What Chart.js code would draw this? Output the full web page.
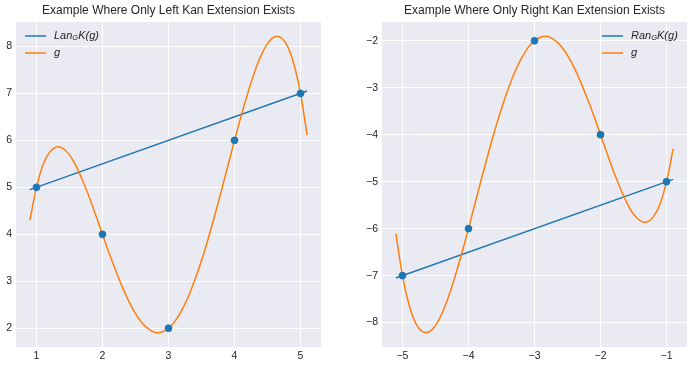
<!DOCTYPE html>
<html>
<head>
<meta charset="utf-8">
<script src="https://cdn.jsdelivr.net/npm/chart.js@4.4.0/dist/chart.umd.min.js"></script>
<style>
  html, body { margin: 0; padding: 0; background: #ffffff; }
  #wrap { position: relative; width: 693px; height: 367px; }
  #left-box { position: absolute; left: 0; top: 0; width: 345px; height: 367px; }
  #right-box { position: absolute; left: 345px; top: 0; width: 348px; height: 367px; }
</style>
</head>
<body>
<div id="wrap">
  <div id="left-box"><canvas id="left-chart"></canvas></div>
  <div id="right-box"><canvas id="right-chart"></canvas></div>
</div>
<script>
// sample points (both panels)
const leftPtsX = [1, 2, 3, 4, 5];
const leftPtsY = [5, 4, 2, 6, 7];
const rightPtsX = [-5, -4, -3, -2, -1];
const rightPtsY = [-7, -6, -2, -4, -5];

// Kan extension lines (end points)
const lanX = [0.9, 5.1];
const lanY = [4.95, 7.05];
const ranX = [-5.1, -0.9];
const ranY = [-7.05, -4.95];

// g curve, left panel
const gLeftX = [0.9, 1.0, 1.1, 1.2, 1.3, 1.4, 1.5, 1.6, 1.7, 1.8, 1.9, 2.0, 2.1, 2.2, 2.3, 2.4, 2.5, 2.6, 2.7, 2.8, 2.9,
                3.0, 3.1, 3.2, 3.3, 3.4, 3.5, 3.6, 3.7, 3.8, 3.9, 4.0, 4.1, 4.2, 4.3, 4.4, 4.5, 4.6, 4.7, 4.8, 4.9, 5.0, 5.1];
const gLeftY = [4.30, 5.00, 5.48, 5.75, 5.86, 5.83, 5.69, 5.45, 5.14, 4.79, 4.40, 4.00, 3.60, 3.23, 2.88, 2.57, 2.31, 2.11, 1.98, 1.91, 1.92,
                2.00, 2.15, 2.38, 2.67, 3.03, 3.44, 3.90, 4.40, 4.92, 5.46, 6.00, 6.52, 7.00, 7.44, 7.80, 8.06, 8.20, 8.19, 8.01, 7.62, 7.00, 6.11];

// g curve, right panel
const gRightX = [-5.1, -5.0, -4.9, -4.8, -4.7, -4.6, -4.5, -4.4, -4.3, -4.2, -4.1, -4.0, -3.9, -3.8, -3.7, -3.6, -3.5, -3.4, -3.3, -3.2, -3.1,
                 -3.0, -2.9, -2.8, -2.7, -2.6, -2.5, -2.4, -2.3, -2.2, -2.1, -2.0, -1.9, -1.8, -1.7, -1.6, -1.5, -1.4, -1.3, -1.2, -1.1, -1.0, -0.9];
const gRightY = [-6.11, -7.00, -7.62, -8.01, -8.19, -8.20, -8.06, -7.80, -7.44, -7.00, -6.52, -6.00, -5.46, -4.92, -4.40, -3.90, -3.44, -3.03, -2.67, -2.38, -2.15,
                 -2.00, -1.92, -1.91, -1.98, -2.11, -2.31, -2.57, -2.88, -3.23, -3.60, -4.00, -4.40, -4.79, -5.14, -5.45, -5.69, -5.83, -5.86, -5.75, -5.48, -5.00, -4.30];

const BLUE = '#1f77b4';
const ORANGE = '#ff7f0e';
const TEXT = '#262626';
const FONT = '"Liberation Sans", Arial, sans-serif';

Chart.defaults.font.family = FONT;
Chart.defaults.font.size = 10.5;
Chart.defaults.color = TEXT;

const zip = (xs, ys) => xs.map((x, i) => ({ x: x, y: ys[i] }));
const minusSign = v => String(v).replace('-', '\u2212');

// axes background, title and legend drawn by hand (matplotlib look)
const decorPlugin = {
    id: 'decor',
    beforeDraw(chart, args, opts) {
        const a = chart.chartArea;
        const ctx = chart.ctx;
        ctx.save();
        ctx.fillStyle = '#eaeaf2';
        ctx.fillRect(a.left, a.top, a.right - a.left, a.bottom - a.top);
        ctx.restore();
    },
    afterDraw(chart, args, opts) {
        const a = chart.chartArea;
        const ctx = chart.ctx;
        ctx.save();
        ctx.fillStyle = TEXT;
        ctx.font = '12px ' + FONT;
        ctx.textAlign = 'center';
        ctx.textBaseline = 'middle';
        ctx.fillText(opts.title, (a.left + a.right) / 2, 11);

        // legend
        const rows = [
            { color: BLUE, parts: [[opts.kanName, 11, 0], ['G', 7.5, 2], ['K(g)', 11, 0]] },
            { color: ORANGE, parts: [['g', 11, 0]] }
        ];
        rows.forEach((row, i) => {
            const y = opts.legendY + i * 17;
            ctx.strokeStyle = row.color;
            ctx.lineWidth = 1.5;
            ctx.beginPath();
            ctx.moveTo(opts.legendX, y);
            ctx.lineTo(opts.legendX + 21, y);
            ctx.stroke();
            let tx = opts.legendX + 29;
            ctx.textAlign = 'left';
            ctx.fillStyle = TEXT;
            row.parts.forEach(p => {
                ctx.font = 'italic ' + p[1] + 'px ' + FONT;
                ctx.fillText(p[0], tx, y + p[2]);
                tx += ctx.measureText(p[0]).width;
            });
        });
        ctx.restore();
    }
};

function makeChart(id, cfg) {
    const datasets = [
        {
            label: 'points',
            type: 'scatter',
            data: zip(cfg.ptsX, cfg.ptsY),
            backgroundColor: BLUE,
            borderColor: BLUE,
            pointRadius: 3.4,
            pointHoverRadius: 3.4,
            order: 0
        },
        {
            label: 'g',
            type: 'line',
            data: zip(cfg.gX, cfg.gY),
            borderColor: ORANGE,
            borderWidth: 1.5,
            pointRadius: 0,
            tension: 0.3,
            fill: false,
            order: 1
        },
        {
            label: 'kan',
            type: 'line',
            data: zip(cfg.lineX, cfg.lineY),
            borderColor: BLUE,
            borderWidth: 1.5,
            pointRadius: 0,
            fill: false,
            order: 2
        }
    ];

    return new Chart(document.getElementById(id), {
        type: 'line',
        data: { datasets: datasets },
        options: {
            responsive: true,
            maintainAspectRatio: false,
            animation: false,
            layout: { padding: { top: 22, right: cfg.padRight, left: 0, bottom: 0 } },
            plugins: {
                legend: { display: false },
                tooltip: { enabled: false },
                decor: {
                    title: cfg.title,
                    legendX: cfg.legendX,
                    legendY: 36,
                    kanName: cfg.kanName
                }
            },
            scales: {
                x: {
                    type: 'linear',
                    min: cfg.xMin,
                    max: cfg.xMax,
                    border: { display: false },
                    grid: { color: '#ffffff', lineWidth: 1, drawTicks: false },
                    ticks: { stepSize: 1, includeBounds: false, padding: 3, callback: minusSign },
                    afterFit: s => { s.height = 20; }
                },
                y: {
                    type: 'linear',
                    min: cfg.yMin,
                    max: cfg.yMax,
                    border: { display: false },
                    grid: { color: '#ffffff', lineWidth: 1, drawTicks: false },
                    ticks: { stepSize: 1, includeBounds: false, padding: 4, callback: minusSign },
                    afterFit: s => { s.width = cfg.yWidth; }
                }
            }
        },
        plugins: [decorPlugin]
    });
}

makeChart('left-chart', {
    title: 'Example Where Only Left Kan Extension Exists',
    ptsX: leftPtsX, ptsY: leftPtsY,
    gX: gLeftX, gY: gLeftY,
    lineX: lanX, lineY: lanY,
    xMin: 0.69, xMax: 5.31, yMin: 1.60, yMax: 8.52,
    yWidth: 16, padRight: 24,
    legendX: 25, kanName: 'Lan'
});

makeChart('right-chart', {
    title: 'Example Where Only Right Kan Extension Exists',
    ptsX: rightPtsX, ptsY: rightPtsY,
    gX: gRightX, gY: gRightY,
    lineX: ranX, lineY: ranY,
    xMin: -5.31, xMax: -0.69, yMin: -8.52, yMax: -1.60,
    yWidth: 37, padRight: 6,
    legendX: 257, kanName: 'Ran'
});
</script>
</body>
</html>
